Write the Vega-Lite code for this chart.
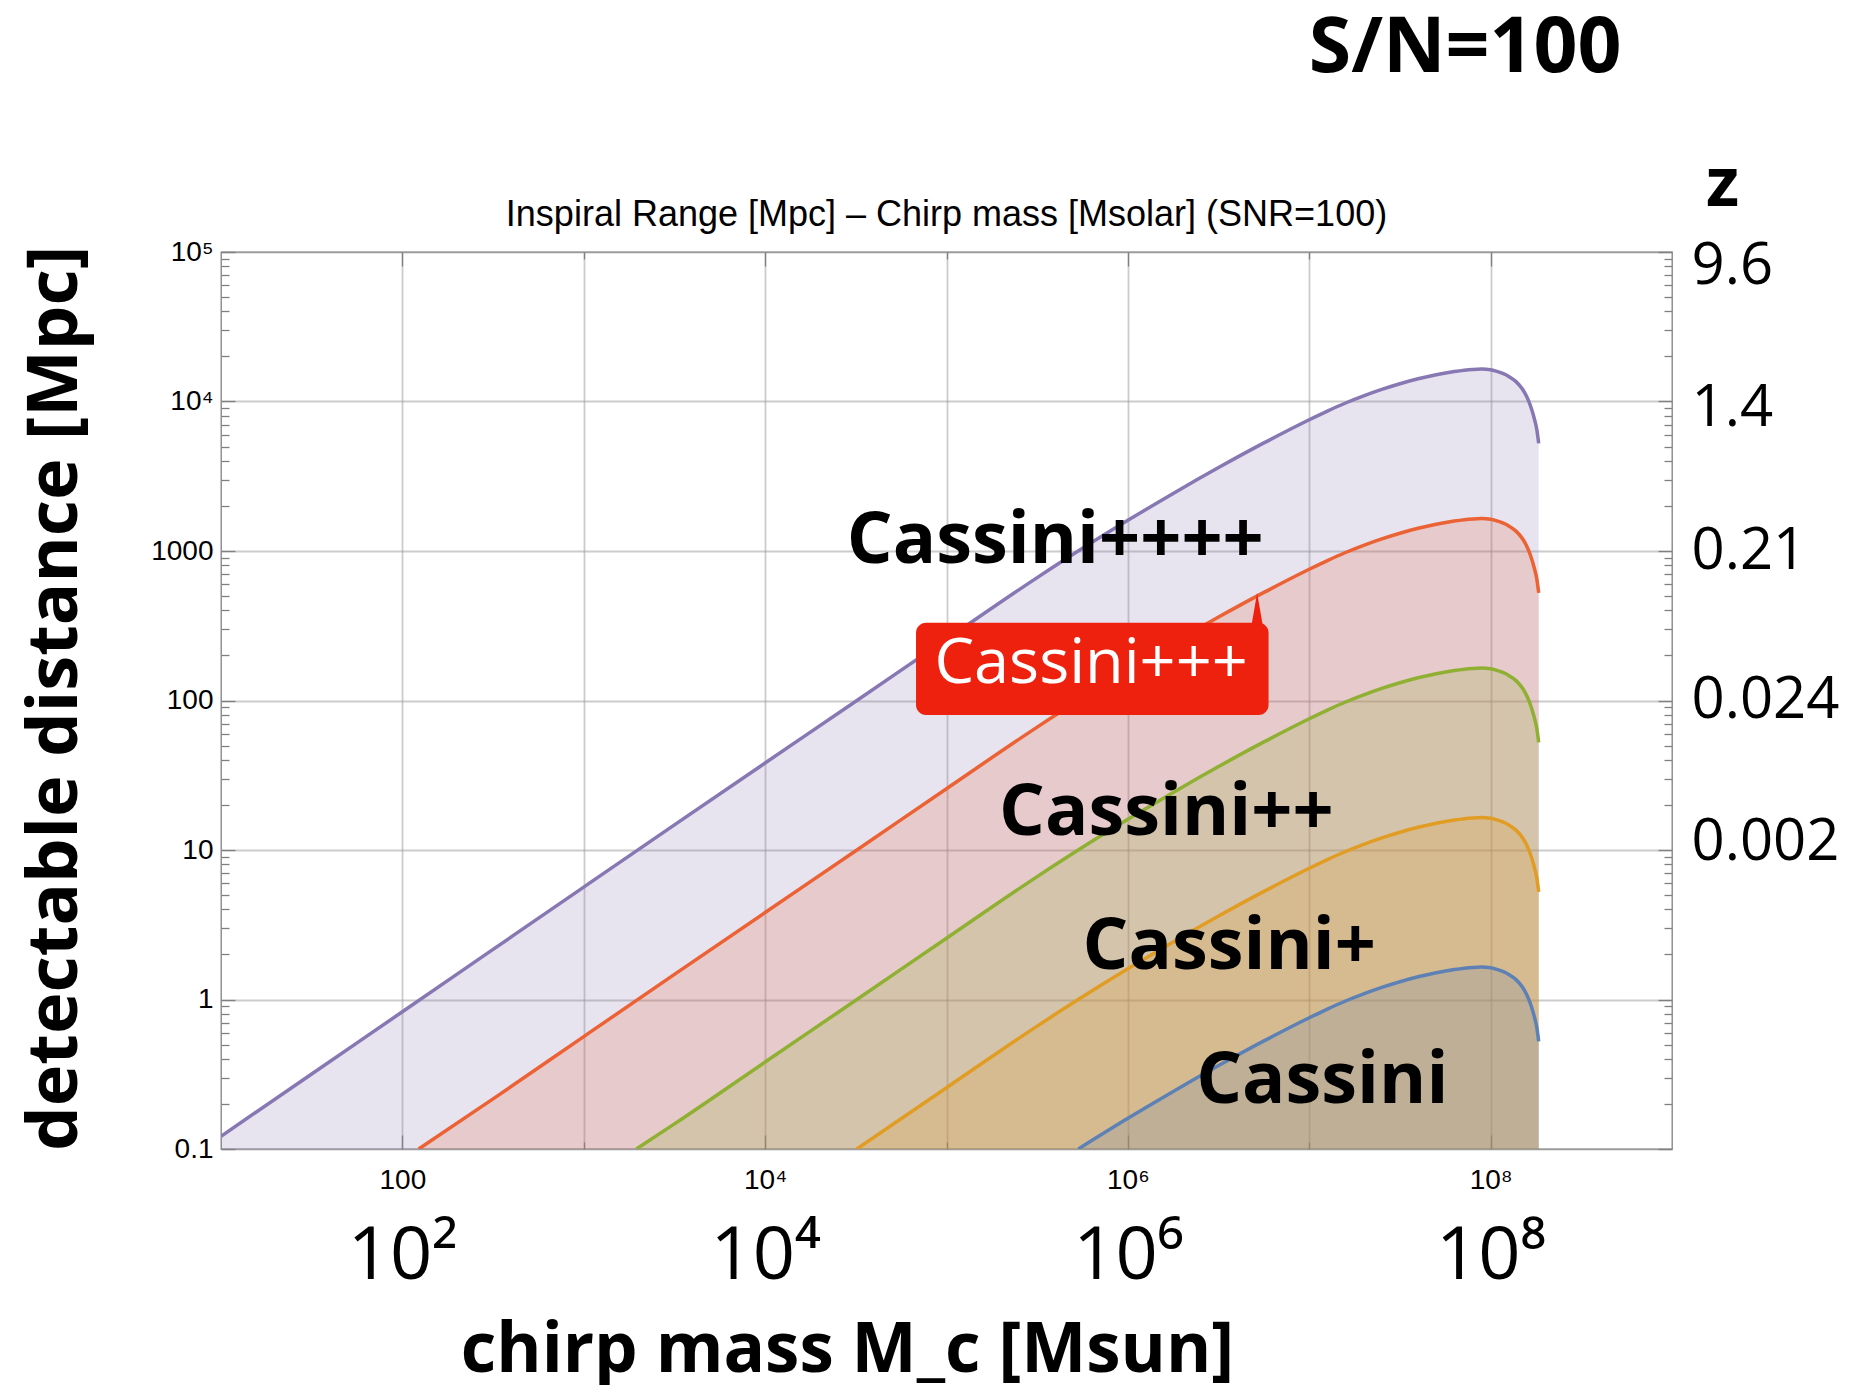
{
  "$schema": "https://vega.github.io/schema/vega-lite/v6.json",
  "width": 1451,
  "height": 897,
  "autosize": {"type": "none"},
  "padding": {"left": 221, "top": 252, "right": 180, "bottom": 236},
  "background": "white",
  "config": {
    "view": {"stroke": "#808080", "strokeWidth": 1.3},
    "axis": {"domain": false, "tickColor": "#808080", "tickWidth": 1.3, "gridColor": "#9a9a9a", "gridOpacity": 0.5, "gridWidth": 1.8, "labelColor": "black", "titleColor": "black", "labelFlush": false, "labelOverlap": false}
  },
  "datasets": {
    "curves": [
      {"s":"Cassini++++","m":10,"d":0.1216},
      {"s":"Cassini++++","m":31.62,"d":0.3177},
      {"s":"Cassini++++","m":100,"d":0.8279},
      {"s":"Cassini++++","m":316.2,"d":2.163},
      {"s":"Cassini++++","m":1000,"d":5.649},
      {"s":"Cassini++++","m":3162,"d":14.72},
      {"s":"Cassini++++","m":10000,"d":38.19},
      {"s":"Cassini++++","m":31623,"d":98.86},
      {"s":"Cassini++++","m":100000,"d":257.0},
      {"s":"Cassini++++","m":316228,"d":663.7},
      {"s":"Cassini++++","m":562341,"d":1042},
      {"s":"Cassini++++","m":1000000,"d":1603},
      {"s":"Cassini++++","m":1778279,"d":2427},
      {"s":"Cassini++++","m":3162278,"d":3614},
      {"s":"Cassini++++","m":5623413,"d":5284},
      {"s":"Cassini++++","m":10000000,"d":7551},
      {"s":"Cassini++++","m":12589254,"d":8630},
      {"s":"Cassini++++","m":15848932,"d":9772},
      {"s":"Cassini++++","m":19952623,"d":10914},
      {"s":"Cassini++++","m":25118864,"d":12050},
      {"s":"Cassini++++","m":31622777,"d":13152},
      {"s":"Cassini++++","m":39810717,"d":14191},
      {"s":"Cassini++++","m":50118723,"d":15101},
      {"s":"Cassini++++","m":63095734,"d":15849},
      {"s":"Cassini++++","m":79432823,"d":16368},
      {"s":"Cassini++++","m":89125094,"d":16482},
      {"s":"Cassini++++","m":100000000,"d":16293},
      {"s":"Cassini++++","m":107151931,"d":15959},
      {"s":"Cassini++++","m":117489755,"d":15346},
      {"s":"Cassini++++","m":125892541,"d":14723},
      {"s":"Cassini++++","m":138038426,"d":13583},
      {"s":"Cassini++++","m":150314196,"d":12023},
      {"s":"Cassini++++","m":158489319,"d":10715},
      {"s":"Cassini++++","m":165958691,"d":9333},
      {"s":"Cassini++++","m":173780083,"d":7762},
      {"s":"Cassini++++","m":179887092,"d":6457},
      {"s":"Cassini++++","m":184077200,"d":5248},

      {"s":"Cassini+++","m":123,"d":0.1},
      {"s":"Cassini+++","m":316.2,"d":0.2163},
      {"s":"Cassini+++","m":1000,"d":0.5649},
      {"s":"Cassini+++","m":3162,"d":1.472},
      {"s":"Cassini+++","m":10000,"d":3.819},
      {"s":"Cassini+++","m":31623,"d":9.886},
      {"s":"Cassini+++","m":100000,"d":25.70},
      {"s":"Cassini+++","m":316228,"d":66.37},
      {"s":"Cassini+++","m":562341,"d":104.2},
      {"s":"Cassini+++","m":1000000,"d":160.3},
      {"s":"Cassini+++","m":1778279,"d":242.7},
      {"s":"Cassini+++","m":3162278,"d":361.4},
      {"s":"Cassini+++","m":5623413,"d":528.4},
      {"s":"Cassini+++","m":10000000,"d":755.1},
      {"s":"Cassini+++","m":12589254,"d":863.0},
      {"s":"Cassini+++","m":15848932,"d":977.2},
      {"s":"Cassini+++","m":19952623,"d":1091.4},
      {"s":"Cassini+++","m":25118864,"d":1205.0},
      {"s":"Cassini+++","m":31622777,"d":1315.2},
      {"s":"Cassini+++","m":39810717,"d":1419.1},
      {"s":"Cassini+++","m":50118723,"d":1510.1},
      {"s":"Cassini+++","m":63095734,"d":1584.9},
      {"s":"Cassini+++","m":79432823,"d":1636.8},
      {"s":"Cassini+++","m":89125094,"d":1648.2},
      {"s":"Cassini+++","m":100000000,"d":1629.3},
      {"s":"Cassini+++","m":107151931,"d":1595.9},
      {"s":"Cassini+++","m":117489755,"d":1534.6},
      {"s":"Cassini+++","m":125892541,"d":1472.3},
      {"s":"Cassini+++","m":138038426,"d":1358.3},
      {"s":"Cassini+++","m":150314196,"d":1202.3},
      {"s":"Cassini+++","m":158489319,"d":1071.5},
      {"s":"Cassini+++","m":165958691,"d":933.3},
      {"s":"Cassini+++","m":173780083,"d":776.2},
      {"s":"Cassini+++","m":179887092,"d":645.7},
      {"s":"Cassini+++","m":184077200,"d":524.8},

      {"s":"Cassini++","m":1950,"d":0.1},
      {"s":"Cassini++","m":3162,"d":0.1472},
      {"s":"Cassini++","m":10000,"d":0.3819},
      {"s":"Cassini++","m":31623,"d":0.9886},
      {"s":"Cassini++","m":100000,"d":2.570},
      {"s":"Cassini++","m":316228,"d":6.637},
      {"s":"Cassini++","m":562341,"d":10.42},
      {"s":"Cassini++","m":1000000,"d":16.03},
      {"s":"Cassini++","m":1778279,"d":24.27},
      {"s":"Cassini++","m":3162278,"d":36.14},
      {"s":"Cassini++","m":5623413,"d":52.84},
      {"s":"Cassini++","m":10000000,"d":75.51},
      {"s":"Cassini++","m":12589254,"d":86.30},
      {"s":"Cassini++","m":15848932,"d":97.72},
      {"s":"Cassini++","m":19952623,"d":109.14},
      {"s":"Cassini++","m":25118864,"d":120.50},
      {"s":"Cassini++","m":31622777,"d":131.52},
      {"s":"Cassini++","m":39810717,"d":141.91},
      {"s":"Cassini++","m":50118723,"d":151.01},
      {"s":"Cassini++","m":63095734,"d":158.49},
      {"s":"Cassini++","m":79432823,"d":163.68},
      {"s":"Cassini++","m":89125094,"d":164.82},
      {"s":"Cassini++","m":100000000,"d":162.93},
      {"s":"Cassini++","m":107151931,"d":159.59},
      {"s":"Cassini++","m":117489755,"d":153.46},
      {"s":"Cassini++","m":125892541,"d":147.23},
      {"s":"Cassini++","m":138038426,"d":135.83},
      {"s":"Cassini++","m":150314196,"d":120.23},
      {"s":"Cassini++","m":158489319,"d":107.15},
      {"s":"Cassini++","m":165958691,"d":93.33},
      {"s":"Cassini++","m":173780083,"d":77.62},
      {"s":"Cassini++","m":179887092,"d":64.57},
      {"s":"Cassini++","m":184077200,"d":52.48},

      {"s":"Cassini+","m":32000,"d":0.1},
      {"s":"Cassini+","m":100000,"d":0.2570},
      {"s":"Cassini+","m":316228,"d":0.6637},
      {"s":"Cassini+","m":562341,"d":1.042},
      {"s":"Cassini+","m":1000000,"d":1.603},
      {"s":"Cassini+","m":1778279,"d":2.427},
      {"s":"Cassini+","m":3162278,"d":3.614},
      {"s":"Cassini+","m":5623413,"d":5.284},
      {"s":"Cassini+","m":10000000,"d":7.551},
      {"s":"Cassini+","m":12589254,"d":8.630},
      {"s":"Cassini+","m":15848932,"d":9.772},
      {"s":"Cassini+","m":19952623,"d":10.914},
      {"s":"Cassini+","m":25118864,"d":12.050},
      {"s":"Cassini+","m":31622777,"d":13.152},
      {"s":"Cassini+","m":39810717,"d":14.191},
      {"s":"Cassini+","m":50118723,"d":15.101},
      {"s":"Cassini+","m":63095734,"d":15.849},
      {"s":"Cassini+","m":79432823,"d":16.368},
      {"s":"Cassini+","m":89125094,"d":16.482},
      {"s":"Cassini+","m":100000000,"d":16.293},
      {"s":"Cassini+","m":107151931,"d":15.959},
      {"s":"Cassini+","m":117489755,"d":15.346},
      {"s":"Cassini+","m":125892541,"d":14.723},
      {"s":"Cassini+","m":138038426,"d":13.583},
      {"s":"Cassini+","m":150314196,"d":12.023},
      {"s":"Cassini+","m":158489319,"d":10.715},
      {"s":"Cassini+","m":165958691,"d":9.333},
      {"s":"Cassini+","m":173780083,"d":7.762},
      {"s":"Cassini+","m":179887092,"d":6.457},
      {"s":"Cassini+","m":184077200,"d":5.248},

      {"s":"Cassini","m":533000,"d":0.1},
      {"s":"Cassini","m":1000000,"d":0.1603},
      {"s":"Cassini","m":1778279,"d":0.2427},
      {"s":"Cassini","m":3162278,"d":0.3614},
      {"s":"Cassini","m":5623413,"d":0.5284},
      {"s":"Cassini","m":10000000,"d":0.7551},
      {"s":"Cassini","m":12589254,"d":0.8630},
      {"s":"Cassini","m":15848932,"d":0.9772},
      {"s":"Cassini","m":19952623,"d":1.0914},
      {"s":"Cassini","m":25118864,"d":1.2050},
      {"s":"Cassini","m":31622777,"d":1.3152},
      {"s":"Cassini","m":39810717,"d":1.4191},
      {"s":"Cassini","m":50118723,"d":1.5101},
      {"s":"Cassini","m":63095734,"d":1.5849},
      {"s":"Cassini","m":79432823,"d":1.6368},
      {"s":"Cassini","m":89125094,"d":1.6482},
      {"s":"Cassini","m":100000000,"d":1.6293},
      {"s":"Cassini","m":107151931,"d":1.5959},
      {"s":"Cassini","m":117489755,"d":1.5346},
      {"s":"Cassini","m":125892541,"d":1.4723},
      {"s":"Cassini","m":138038426,"d":1.3583},
      {"s":"Cassini","m":150314196,"d":1.2023},
      {"s":"Cassini","m":158489319,"d":1.0715},
      {"s":"Cassini","m":165958691,"d":0.9333},
      {"s":"Cassini","m":173780083,"d":0.7762},
      {"s":"Cassini","m":179887092,"d":0.6457},
      {"s":"Cassini","m":184077200,"d":0.5248}
    ],
    "labels": [
      {"label":"Cassini++++","m":398000,"d":828,"kind":"bold"},
      {"label":"Cassini++","m":1630000,"d":12.6,"kind":"bold"},
      {"label":"Cassini+","m":3620000,"d":1.61,"kind":"bold"},
      {"label":"Cassini","m":11800000,"d":0.203,"kind":"bold"},
      {"label":"Cassini+++","m":626600,"d":130.3,"kind":"box"},
      {"label":"S/N=100","m":72400000,"d":1600000,"kind":"head"},
      {"label":"Inspiral Range [Mpc] – Chirp mass [Msolar] (SNR=100)","m":100000,"d":149400,"kind":"title"}
    ]
  },
  "layer": [
    {
      "data": {"name": "curves"},
      "mark": {"type": "area", "interpolate": "monotone", "fillOpacity": 0.2, "clip": true},
      "encoding": {
        "x": {"field": "m", "type": "quantitative", "scale": {"type": "log", "domain": [10, 1000000000], "nice": false},
          "axis": {"orient": "bottom", "values": [100, 10000, 1000000, 100000000], "labelExpr": "datum.value == 100 ? '100' : datum.value == 10000 ? '10⁴' : datum.value == 1000000 ? '10⁶' : '10⁸'", "labelFont": "Liberation Sans", "labelFontSize": 28, "labelBaseline": "alphabetic", "labelPadding": 53, "tickSize": -14, "grid": true, "title": null}},
        "y": {"field": "d", "type": "quantitative", "stack": null, "scale": {"type": "log", "domain": [0.1, 100000], "nice": false},
          "axis": {"orient": "left", "values": [0.1, 1, 10, 100, 1000, 10000, 100000], "labelExpr": "datum.value == 100000 ? '10⁵' : datum.value == 10000 ? '10⁴' : datum.value == 1000 ? '1000' : datum.value == 100 ? '100' : datum.value == 10 ? '10' : datum.value == 1 ? '1' : '0.1'", "labelFont": "Liberation Sans", "labelFontSize": 28, "labelBaseline": "middle", "labelPadding": 22, "tickSize": -14, "grid": true,
            "title": "detectable distance [Mpc]", "titleFont": "Open Sans", "titleFontSize": 70.5, "titleFontWeight": "bold", "titleX": -145, "titleY": 446, "titleAngle": 270, "titleBaseline": "alphabetic", "titleAlign": "center"}},
        "y2": {"datum": 0.1},
        "color": {"field": "s", "type": "nominal", "scale": {"domain": ["Cassini++++", "Cassini+++", "Cassini++", "Cassini+", "Cassini"], "range": ["#8778B3", "#EB6235", "#8FB032", "#E19C24", "#5E81B5"]}, "legend": null}
      }
    },
    {
      "data": {"name": "curves"},
      "mark": {"type": "line", "interpolate": "monotone", "strokeWidth": 3.5, "clip": true},
      "encoding": {
        "x": {"field": "m", "type": "quantitative", "scale": {"type": "log", "domain": [10, 1000000000], "nice": false},
          "axis": {"orient": "bottom", "values": [1000, 100000, 10000000], "labels": false, "tickSize": -7, "grid": true, "title": null}},
        "y": {"field": "d", "type": "quantitative", "stack": null, "scale": {"type": "log", "domain": [0.1, 100000], "nice": false},
          "axis": {"orient": "left", "values": [0.2,0.3,0.4,0.5,0.6,0.7,0.8,0.9,2,3,4,5,6,7,8,9,20,30,40,50,60,70,80,90,200,300,400,500,600,700,800,900,2000,3000,4000,5000,6000,7000,8000,9000,20000,30000,40000,50000,60000,70000,80000,90000], "labels": false, "tickSize": -8, "grid": false, "title": null}},
        "color": {"field": "s", "type": "nominal", "scale": {"domain": ["Cassini++++", "Cassini+++", "Cassini++", "Cassini+", "Cassini"], "range": ["#8778B3", "#EB6235", "#8FB032", "#E19C24", "#5E81B5"]}, "legend": null}
      }
    },
    {
      "data": {"name": "labels"},
      "transform": [{"filter": "datum.kind == 'bold'"}],
      "mark": {"type": "text", "font": "Open Sans", "fontWeight": "bold", "fontSize": 72, "align": "center", "baseline": "alphabetic", "color": "black"},
      "encoding": {
        "x": {"field": "m", "type": "quantitative", "scale": {"type": "log", "domain": [10, 1000000000], "nice": false},
          "axis": {"orient": "top", "values": [100, 10000, 1000000, 100000000], "labels": false, "tickSize": -14, "grid": false, "title": null}},
        "y": {"field": "d", "type": "quantitative", "scale": {"type": "log", "domain": [0.1, 100000], "nice": false},
          "axis": {"orient": "right", "values": [0.1, 1, 10, 100, 1000, 10000, 100000], "labelExpr": "datum.value == 100000 ? '9.6' : datum.value == 10000 ? '1.4' : datum.value == 1000 ? '0.21' : datum.value == 100 ? '0.024' : datum.value == 10 ? '0.002' : ''", "labelFont": "Open Sans", "labelFontSize": 58, "labelBaseline": "middle", "labelPadding": 33,
            "labelOffset": {"condition": [{"test": "datum.value == 100000", "value": 14}, {"test": "datum.value == 10000", "value": 7}, {"test": "datum.value == 10", "value": -8}], "value": 0},
            "tickSize": -14, "grid": false,
            "title": "z", "titleFont": "Open Sans", "titleFontSize": 68, "titleFontWeight": "bold", "titleAngle": 0, "titleX": 50, "titleY": -47, "titleBaseline": "alphabetic", "titleAlign": "center"}},
        "text": {"field": "label", "type": "nominal"}
      }
    },
    {
      "data": {"values": [{}]},
      "mark": {"type": "rect", "color": "#ee200e", "cornerRadius": 10},
      "encoding": {
        "x": {"datum": 67920, "type": "quantitative", "scale": {"type": "log", "domain": [10, 1000000000], "nice": false}, "axis": null},
        "x2": {"datum": 5965000},
        "y": {"datum": 331, "type": "quantitative", "scale": {"type": "log", "domain": [0.1, 100000], "nice": false}, "axis": null},
        "y2": {"datum": 80}
      }
    },
    {
      "data": {"values": [{}]},
      "mark": {"type": "point", "shape": "M-0.35,1L0,-1L0.35,1Z", "size": 1156, "filled": true, "color": "#ee200e", "opacity": 1, "strokeWidth": 0},
      "encoding": {
        "x": {"datum": 5160000, "type": "quantitative", "scale": {"type": "log", "domain": [10, 1000000000], "nice": false}, "axis": null},
        "y": {"datum": 402.7, "type": "quantitative", "scale": {"type": "log", "domain": [0.1, 100000], "nice": false}, "axis": null}
      }
    },
    {
      "data": {"name": "labels"},
      "transform": [{"filter": "datum.kind == 'box'"}],
      "mark": {"type": "text", "font": "Open Sans", "fontWeight": "normal", "fontSize": 63, "align": "center", "baseline": "alphabetic", "color": "white"},
      "encoding": {
        "x": {"field": "m", "type": "quantitative", "scale": {"type": "log", "domain": [10, 1000000000], "nice": false},
          "axis": {"orient": "top", "values": [1000, 100000, 10000000], "labels": false, "tickSize": -7, "grid": false, "title": null}},
        "y": {"field": "d", "type": "quantitative", "scale": {"type": "log", "domain": [0.1, 100000], "nice": false},
          "axis": {"orient": "right", "values": [0.2,0.3,0.4,0.5,0.6,0.7,0.8,0.9,2,3,4,5,6,7,8,9,20,30,40,50,60,70,80,90,200,300,400,500,600,700,800,900,2000,3000,4000,5000,6000,7000,8000,9000,20000,30000,40000,50000,60000,70000,80000,90000], "labels": false, "tickSize": -8, "grid": false, "title": null}},
        "text": {"field": "label", "type": "nominal"}
      }
    },
    {
      "data": {"name": "labels"},
      "transform": [{"filter": "datum.kind == 'head'"}],
      "mark": {"type": "text", "font": "Open Sans", "fontWeight": "bold", "fontSize": 77, "align": "center", "baseline": "alphabetic", "color": "black"},
      "encoding": {
        "x": {"field": "m", "type": "quantitative", "scale": {"type": "log", "domain": [10, 1000000000], "nice": false},
          "axis": {"orient": "bottom", "values": [100, 10000, 1000000, 100000000], "labelExpr": "datum.value == 100 ? '10²' : datum.value == 10000 ? '10⁴' : datum.value == 1000000 ? '10⁶' : '10⁸'", "labelFont": "Open Sans", "labelFontSize": 74, "labelBaseline": "alphabetic", "labelPadding": 129, "ticks": false, "tickSize": 0, "grid": false,
            "title": "chirp mass M_c [Msun]", "titleFont": "Open Sans", "titleFontSize": 69, "titleFontWeight": "bold", "titleX": 626, "titleY": 222, "titleBaseline": "alphabetic", "titleAlign": "center"}},
        "y": {"field": "d", "type": "quantitative", "scale": {"type": "log", "domain": [0.1, 100000], "nice": false}, "axis": null},
        "text": {"field": "label", "type": "nominal"}
      }
    },
    {
      "data": {"name": "labels"},
      "transform": [{"filter": "datum.kind == 'title'"}],
      "mark": {"type": "text", "font": "Liberation Sans", "fontWeight": "normal", "fontSize": 36, "align": "center", "baseline": "alphabetic", "color": "black"},
      "encoding": {
        "x": {"field": "m", "type": "quantitative", "scale": {"type": "log", "domain": [10, 1000000000], "nice": false}, "axis": null},
        "y": {"field": "d", "type": "quantitative", "scale": {"type": "log", "domain": [0.1, 100000], "nice": false}, "axis": null},
        "text": {"field": "label", "type": "nominal"}
      }
    }
  ],
  "resolve": {"axis": {"x": "independent", "y": "independent"}}
}
